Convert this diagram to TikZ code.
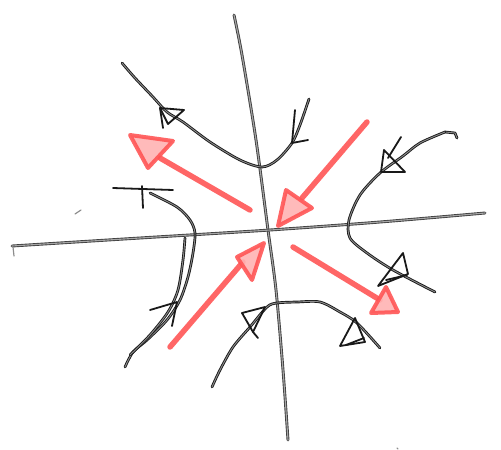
\documentclass[tikz,border=0pt]{standalone}
\definecolor{marker}{RGB}{255,85,85}
\begin{document}
\begin{tikzpicture}[x=1pt,y=-1pt,
  axisline/.style={draw=black!75, double=black!35, double distance=1.1pt, line width=0.9pt, line cap=round},
  traj/.style={draw=black!90, double=black!45, double distance=0.9pt, line width=0.9pt, line cap=round, line join=round},
  ahead/.style={draw=black!90, line width=1.8pt, line join=round, line cap=round},
  redshaft/.style={draw=marker, line width=5.5pt, line cap=round, opacity=0.9},
  redhead/.style={draw=marker, line width=4pt, fill=marker!45, line join=round, opacity=0.9},
  stray/.style={draw=black!45, line width=1.2pt, line cap=round}]
\useasboundingbox (0,0) rectangle (501,450);
% axes
\draw[axisline] plot[smooth] coordinates {(234,15) (242,55) (256,140) (268,230) (276,290) (283,370) (288,440)};
\draw[axisline] plot[smooth] coordinates {(12,246) (140,238) (270,230) (380,222) (485,213)};
% red eigen-direction arrows
\draw[redshaft] (250,210) -- (160,158);
\draw[redhead] (130,135) -- (173,141) -- (148,168) -- cycle;
\draw[redshaft] (367,122) -- (302,198);
\draw[redhead] (278,226) -- (286,190) -- (312,208) -- cycle;
\draw[redshaft] (170,347) -- (243,262);
\draw[redhead] (264,243) -- (237,257) -- (252,280) -- cycle;
\draw[redshaft] (293,247) -- (380,300);
\draw[redhead] (398,312) -- (386,287) -- (371,313) -- cycle;
% top trajectory
\draw[traj] plot[smooth] coordinates {(122,63) (135,78) (153,97) (167,112) (183,122) (210,142) (240,160) (262,167) (277,160) (292,143) (300,125) (309,99)};
\draw[ahead] (160,108) -- (184,110) -- (168,124) -- cycle;
\draw[ahead] (160,108) -- (163,128);
\draw[ahead] (295,110) -- (292,143) -- (308,140);
% right trajectory
\draw[traj] (457,138) -- (455,133) -- (445,132);
\draw[traj] plot[smooth] coordinates {(445,132) (420,143) (403,156) (380,173) (360,195) (349,220) (350,238) (367,253) (393,270) (435,292)};
\draw[ahead] (384,150) -- (381,172) -- (405,172) -- cycle;
\draw[ahead] (388,158) -- (401,137);
\draw[ahead] (403,253) -- (378,286) -- (408,274) -- cycle;
\draw[ahead] (386,280) -- (407,275);
% left trajectory
\draw[traj] plot[smooth] coordinates {(150,193) (177,207) (190,220) (195,233) (193,253) (188,277) (180,300) (167,320) (147,340) (133,352) (125,367)};
\draw[traj] plot[smooth] coordinates {(185,238) (183,260) (178,290) (168,312) (150,335) (130,355)};
\draw[ahead] (113,188) -- (173,190);
\draw[ahead] (142,186) -- (143,208);
\draw[ahead] (150,310) -- (177,302) -- (172,326);
% bottom trajectory
\draw[traj] plot[smooth] coordinates {(212,387) (220,370) (233,347) (250,327) (267,307) (277,303) (297,302) (320,302) (340,312) (357,323) (380,348)};
\draw[ahead] (242,313) -- (265,307) -- (253,332) -- cycle;
\draw[ahead] (253,332) -- (258,338);
\draw[ahead] (355,318) -- (340,346) -- (365,342) -- cycle;
\draw[ahead] (346,345) -- (364,338);
% stray pencil marks
\draw[stray] (75,214) -- (81,210);
\draw[stray] (13,247) -- (14,256);
\draw[stray] (397,448) -- (398,449);
\end{tikzpicture}
\end{document}
